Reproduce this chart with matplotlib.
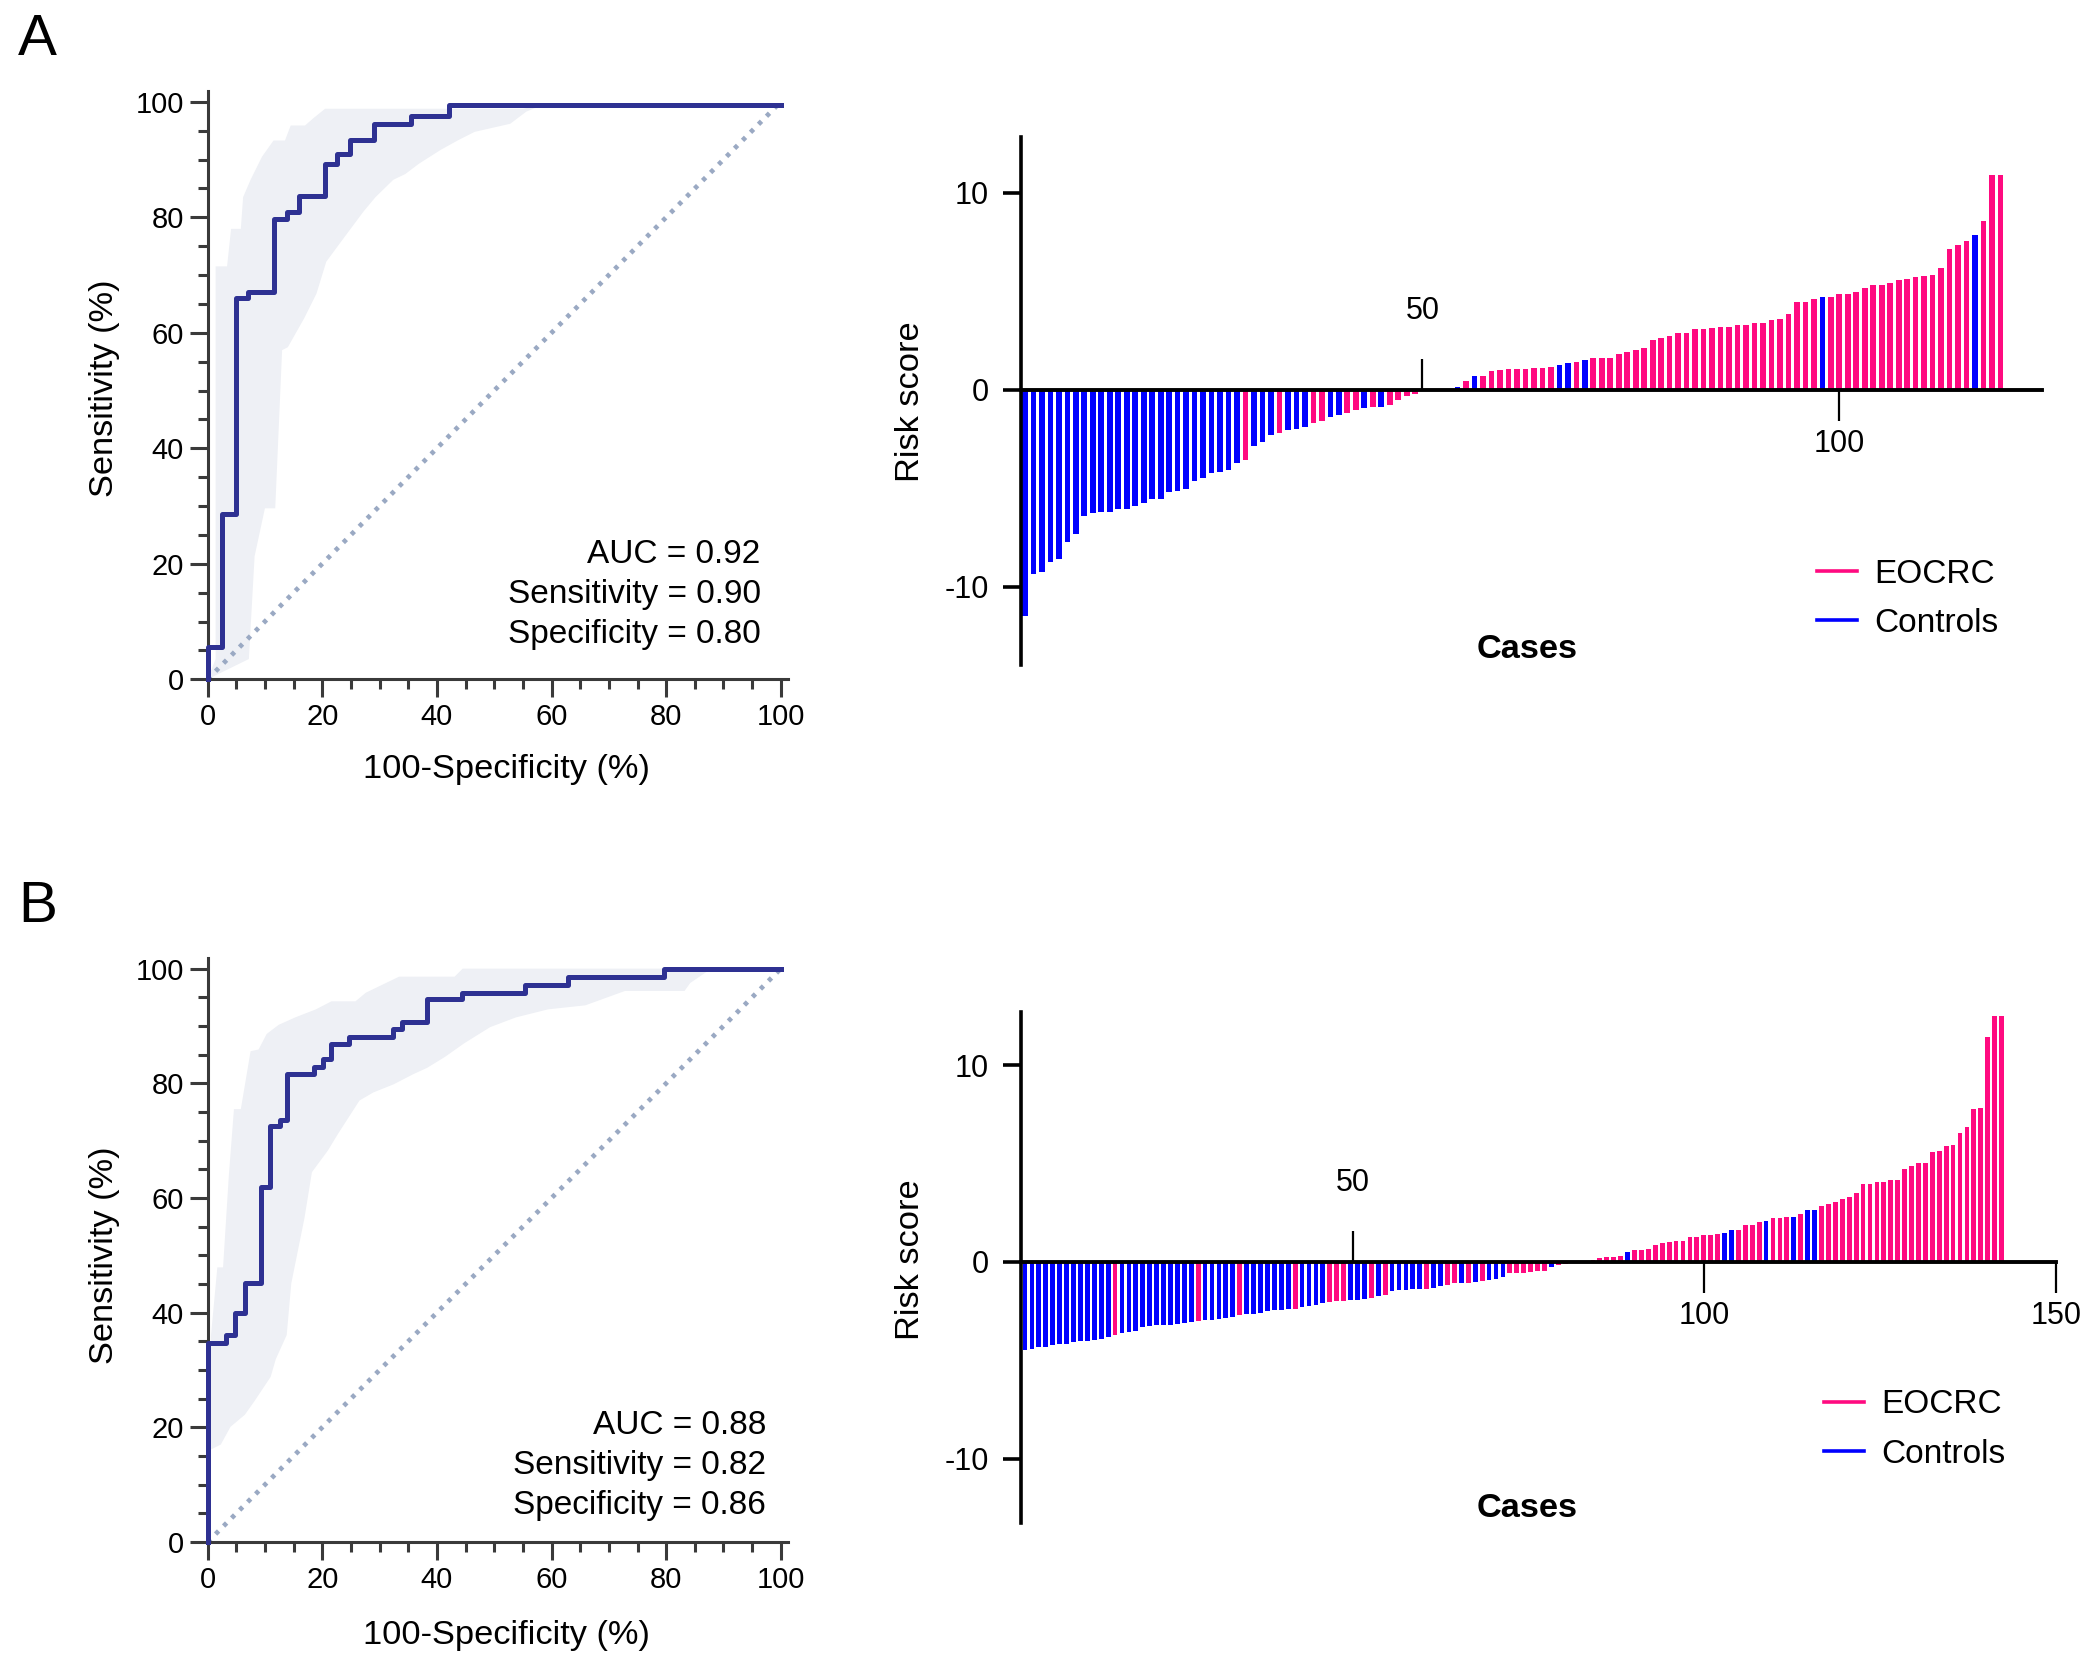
import numpy as np
import matplotlib.pyplot as plt
from matplotlib.lines import Line2D

plt.rcParams['font.family'] = ['Liberation Sans', 'DejaVu Sans']
plt.rcParams['axes.unicode_minus'] = False

# ---------------- ROC data (A) ----------------
roc_a_fpr = [0, 0, 2.6, 4.9, 7.0, 11.5, 13.8, 16.0, 20.5, 22.5, 24.8, 29.0, 35.5, 42.2, 100]
roc_a_sens = [0, 5.5, 28.6, 66.0, 67.1, 79.7, 81.0, 83.7, 89.3, 90.9, 93.4, 96.2, 97.6, 99.5, 99.5]
band_a_up_fpr = [0, 1.4, 1.4, 3.4, 4.1, 5.8, 6.2, 7.5, 9.5, 11.5, 13.5, 14.5, 17.0, 18.5, 20.5, 40, 55, 58.5, 100]
band_a_up_sens = [0, 3.5, 71.5, 71.5, 78.0, 78.0, 83.5, 86.5, 90.5, 93.3, 93.3, 95.9, 95.9, 97.2, 98.8, 98.8, 98.8, 99.5, 99.5]
band_a_lo_fpr = [0, 7.2, 8.2, 10.0, 11.8, 13.0, 14.0, 16.9, 19.0, 20.7, 23.0, 27.2, 29.3, 32.4, 34.5,
                 36.9, 40.7, 43.8, 46.6, 52.8, 55.6, 58.5, 100]
band_a_lo_sens = [0, 3.5, 21.3, 29.6, 29.6, 57.0, 57.5, 62.6, 66.8, 72.3, 75.4, 81.0, 83.5, 86.5, 87.5,
                  89.3, 91.7, 93.4, 94.8, 96.2, 98.3, 99.5, 99.5]
stats_a = ['AUC = 0.92', 'Sensitivity = 0.90', 'Specificity = 0.80']

# ---------------- ROC data (B) ----------------
roc_b_fpr = [0, 0, 3.2, 4.8, 6.5, 9.3, 10.9, 12.6, 13.9, 18.5, 20.1, 21.5, 24.6, 32.4, 33.9,
             38.3, 44.4, 55.4, 62.8, 79.6, 100]
roc_b_sens = [0, 34.7, 36.1, 39.9, 45.1, 61.9, 72.5, 73.6, 81.6, 82.9, 84.3, 86.8, 88.1, 89.5, 90.7,
              94.7, 95.8, 97.1, 98.5, 100, 100]
band_b_up_fpr = [0.3, 0.6, 1.7, 2.7, 3.7, 4.6, 5.8, 7.5, 8.9, 10.3, 12.4, 15.3, 18.9, 21.6, 25.8,
                 27.6, 33.4, 43.1, 44.5, 100]
band_b_up_sens = [16.0, 36.1, 47.9, 47.9, 63.8, 75.5, 75.5, 85.6, 85.9, 88.6, 90.2, 91.5, 92.9, 94.3, 94.3,
                  95.8, 98.6, 98.6, 100, 100]
band_b_lo_fpr = [0.3, 2.3, 4.0, 6.5, 8.2, 11.0, 11.9, 13.8, 14.6, 16.9, 18.2, 21.0, 22.7, 24.5, 26.5,
                 28.9, 32.4, 35.9, 38.3, 41.4, 44.8, 49.3, 53.8, 59.4, 65.9, 72.8, 83.2, 84.2, 86.7,
                 88.0, 100]
band_b_lo_sens = [16.0, 17.0, 20.1, 22.2, 24.6, 28.8, 31.9, 36.1, 45.1, 56.5, 64.5, 68.3, 71.1, 73.9, 77.0,
                  78.4, 79.8, 81.6, 82.7, 84.6, 87.0, 89.8, 91.5, 92.9, 93.6, 96.1, 96.1, 97.5, 99.2,
                  100, 100]
stats_b = ['AUC = 0.88', 'Sensitivity = 0.82', 'Specificity = 0.86']

diag = [0, 100]

# ---------------- Risk scores (A) ----------------
risk_a = [-11.5, -9.35, -9.27, -8.74, -8.6, -7.72, -7.31, -6.42, -6.25, -6.21, -6.18, -6.04, -6.04,
          -5.89, -5.75, -5.56, -5.54, -5.2, -5.12, -5.06, -4.62, -4.46, -4.21, -4.16, -4.09, -3.73,
          -3.54, -2.85, -2.65, -2.27, -2.19, -2.04, -2.0, -1.91, -1.66, -1.56, -1.38, -1.29, -1.2,
          -1.03, -0.94, -0.88, -0.85, -0.76, -0.5, -0.32, -0.23,
          -0.08, -0.04, 0.02, 0.05,
          0.12, 0.46, 0.72, 0.72, 0.98, 1.02, 1.05, 1.05, 1.05, 1.11, 1.11, 1.17, 1.25, 1.38, 1.41,
          1.52, 1.6, 1.62, 1.62, 1.82, 1.91, 2.03, 2.15, 2.53, 2.64, 2.75, 2.87, 2.87, 3.09, 3.09,
          3.14, 3.19, 3.19, 3.3, 3.3, 3.41, 3.41, 3.53, 3.59, 3.87, 4.44, 4.44, 4.62, 4.73, 4.73,
          4.85, 4.87, 4.98, 5.16, 5.32, 5.34, 5.44, 5.6, 5.65, 5.71, 5.76, 5.84, 6.18, 7.17, 7.35,
          7.56, 7.85, 8.6, 10.92, 10.92]
# E = EOCRC, C = Controls
group_a = ("C" * 26 + "E" + "CCC" + "E" + "CCC" + "EE" + "CC" + "EE" + "C" + "E" + "C" + "EEEE"
           + "EECE"
           + "CEC" + "E" * 9 + "CC" + "E" + "C" + "E" * 27 + "C" + "E" * 17 + "C" + "EEE")

# ---------------- Risk scores (B) ----------------
risk_b = [-4.46, -4.41, -4.34, -4.3, -4.2, -4.15, -4.14, -4.08, -4.03, -4.0, -3.95, -3.93, -3.83,
          -3.69, -3.61, -3.56, -3.49, -3.31, -3.27, -3.22, -3.2, -3.19, -3.14, -3.1, -3.07, -2.98,
          -2.97, -2.95, -2.88, -2.85, -2.81, -2.68, -2.66, -2.64, -2.61, -2.51, -2.46, -2.42, -2.4,
          -2.37, -2.29, -2.24, -2.2, -2.08, -2.03, -2.0, -1.97, -1.92, -1.92, -1.9, -1.83, -1.75,
          -1.66, -1.49, -1.44, -1.41, -1.37, -1.37, -1.36, -1.34, -1.2, -1.19, -1.07, -1.05, -1.05,
          -1.03, -0.98, -0.9, -0.86, -0.76, -0.56, -0.56, -0.56, -0.51, -0.47, -0.44, -0.25, -0.14,
          -0.1, -0.06, -0.03, 0.03,
          0.12, 0.2, 0.25, 0.25, 0.3, 0.51, 0.59, 0.59, 0.68, 0.88, 0.97, 1.02, 1.08, 1.08, 1.25,
          1.25, 1.36, 1.36, 1.42, 1.46, 1.64, 1.64, 1.88, 1.88, 2.02, 2.1, 2.24, 2.24, 2.29, 2.29,
          2.46, 2.63, 2.64, 2.83, 2.95, 3.07, 3.22, 3.32, 3.49, 3.97, 3.98, 4.08, 4.08, 4.15, 4.17,
          4.71, 4.85, 5.03, 5.03, 5.61, 5.64, 5.9, 5.93, 6.53, 6.86, 7.76, 7.81, 11.4, 12.47, 12.47]
group_b = ("C" * 13 + "E" + "C" * 11 + "E" + "C" * 5 + "E" + "C" * 7 + "E" + "C" * 4 + "EEE" + "CCC"
           + "E" + "C" + "E" + "C" * 5 + "E" + "CC" + "EE" + "C" + "E" + "C" + "E" + "CCC" + "E" * 6
           + "C" + "E"
           + "EECE"
           + "E" * 5 + "C" + "E" * 13 + "CC" + "E" * 4 + "C" + "EEE" + "C" + "E" + "CC" + "E" * 27)

PINK = '#ff0a80'
BLUE = '#0000ff'
NAVY = '#2e3192'
BAND = '#eef0f5'
DIAG = '#9aa9c3'
AXC = '#3a3a3a'

fig = plt.figure(figsize=(10.5, 8.36), dpi=200)
W, H = 1568.0, 1248.0   # reference layout units


def fx(px):
    return px / W


def fy(py):
    return 1 - py / H


def roc_panel(x0, y0, y100, fpr, sens, up_f, up_s, lo_f, lo_s, stats, stat_x, stat_y):
    x100 = 583
    ax = fig.add_axes([fx(x0), fy(y0), (x100 - x0) / W * 1.012, (y0 - y100) / H * 1.018])
    px = np.concatenate([up_f, lo_f[::-1]])
    py = np.concatenate([up_s, lo_s[::-1]])
    ax.fill(px, py, color=BAND, lw=0, zorder=1)
    ax.plot(diag, diag, color=DIAG, lw=1.7, ls=(0, (0.9, 1.5)), zorder=2)
    ax.plot(fpr, sens, drawstyle='steps-post', color=NAVY, lw=1.8, zorder=3, clip_on=False)
    ax.set_xlim(0, 101.2)
    ax.set_ylim(0, 101.8)
    ax.set_xticks(np.arange(0, 101, 20))
    ax.set_yticks(np.arange(0, 101, 20))
    ax.set_xticks(np.arange(0, 101, 5), minor=True)
    ax.set_yticks(np.arange(0, 101, 5), minor=True)
    for s in ['top', 'right']:
        ax.spines[s].set_visible(False)
    for s in ['left', 'bottom']:
        ax.spines[s].set_linewidth(1.1)
        ax.spines[s].set_color(AXC)
    ax.tick_params(which='major', length=6.5, width=1.1, color=AXC, labelsize=10.5, pad=2)
    ax.tick_params(which='minor', length=3.6, width=1.1, color=AXC)
    for i, s in enumerate(stats):
        ax.text(stat_x, stat_y[i], s, ha='right', va='center', fontsize=12)
    return ax


roc_panel(155, 507, 76, roc_a_fpr, roc_a_sens, band_a_up_fpr, band_a_up_sens,
          band_a_lo_fpr, band_a_lo_sens, stats_a, 96.5, [21.6, 14.6, 7.7])
roc_panel(155, 1151, 723, roc_b_fpr, roc_b_sens, band_b_up_fpr, band_b_up_sens,
          band_b_lo_fpr, band_b_lo_sens, stats_b, 97.4, [20.3, 13.3, 6.3])

for yy in [290, 937]:
    fig.text(fx(78), fy(yy), 'Sensitivity (%)', rotation=90, ha='center', va='center', fontsize=12.4)
for yy in [574, 1221]:
    fig.text(fx(378), fy(yy), '100-Specificity (%)', ha='center', va='center', fontsize=12.4)


def risk_panel(rect, scores, groups, x_start, x_step, xlim, ylim, bottom_ticks):
    ax = fig.add_axes(rect)
    n = len(scores)
    x = x_start + x_step * np.arange(n)
    colors = [PINK if g == 'E' else BLUE for g in groups]
    ax.bar(x, scores, width=0.68, color=colors, lw=0, zorder=2)
    ax.set_xlim(*xlim)
    ax.set_ylim(*ylim)
    for s in ['top', 'right']:
        ax.spines[s].set_visible(False)
    ax.spines['bottom'].set_position(('data', 0))
    ax.spines['bottom'].set_linewidth(1.4)
    ax.spines['bottom'].set_zorder(3)
    ax.spines['left'].set_linewidth(1.3)
    ax.set_yticks([-10, 0, 10])
    ax.set_yticklabels(['-10', '0', '10'])
    ax.tick_params(axis='y', length=6.5, width=1.3, labelsize=11, pad=5)
    ax.set_xticks(bottom_ticks)
    ax.set_xticklabels([str(t) for t in bottom_ticks])
    ax.tick_params(axis='x', length=11, width=0.8, labelsize=11, pad=3)
    sec = ax.secondary_xaxis(0, transform=ax.transData)
    sec.set_alignment('top')
    sec.spines['top'].set_visible(False)
    sec.spines['bottom'].set_visible(False)
    sec.set_xticks([50])
    sec.set_xticklabels(['50'])
    sec.tick_params(axis='x', length=11, width=0.8, labelsize=11, pad=12)
    return ax


risk_panel([fx(762), fy(496), fx(1525) - fx(762), (496 - 102) / H], risk_a, group_a,
           2.3, 1.018, (1.77, 124.4), (-13.95, 12.86), [100])
risk_panel([fx(762), fy(1137), fx(1535) - fx(762), (1137 - 755) / H], risk_b, group_b,
           3.4, 0.985, (2.76, 150), (-13.27, 12.72), [100, 150])

for yy in [300, 940]:
    fig.text(fx(680), fy(yy), 'Risk score', rotation=90, ha='center', va='center', fontsize=12.4)
for yy in [485, 1126]:
    fig.text(fx(1140), fy(yy), 'Cases', ha='center', va='center', fontsize=12.4, fontweight='bold')

handles = [Line2D([], [], color=PINK, lw=1.3), Line2D([], [], color=BLUE, lw=1.3)]
labels = ['EOCRC', 'Controls']
for lx, ly in [(1357, 447), (1362, 1067)]:
    fig.legend(handles, labels, loc='center left', bbox_to_anchor=(fx(lx), fy(ly)),
               frameon=False, borderaxespad=0, borderpad=0, handlelength=1.2,
               handletextpad=0.5, labelspacing=0.55, fontsize=12)

fig.text(fx(28), fy(30), 'A', ha='center', va='center', fontsize=21)
fig.text(fx(28), fy(677), 'B', ha='center', va='center', fontsize=21)

fig.savefig('out.png', dpi=200)
